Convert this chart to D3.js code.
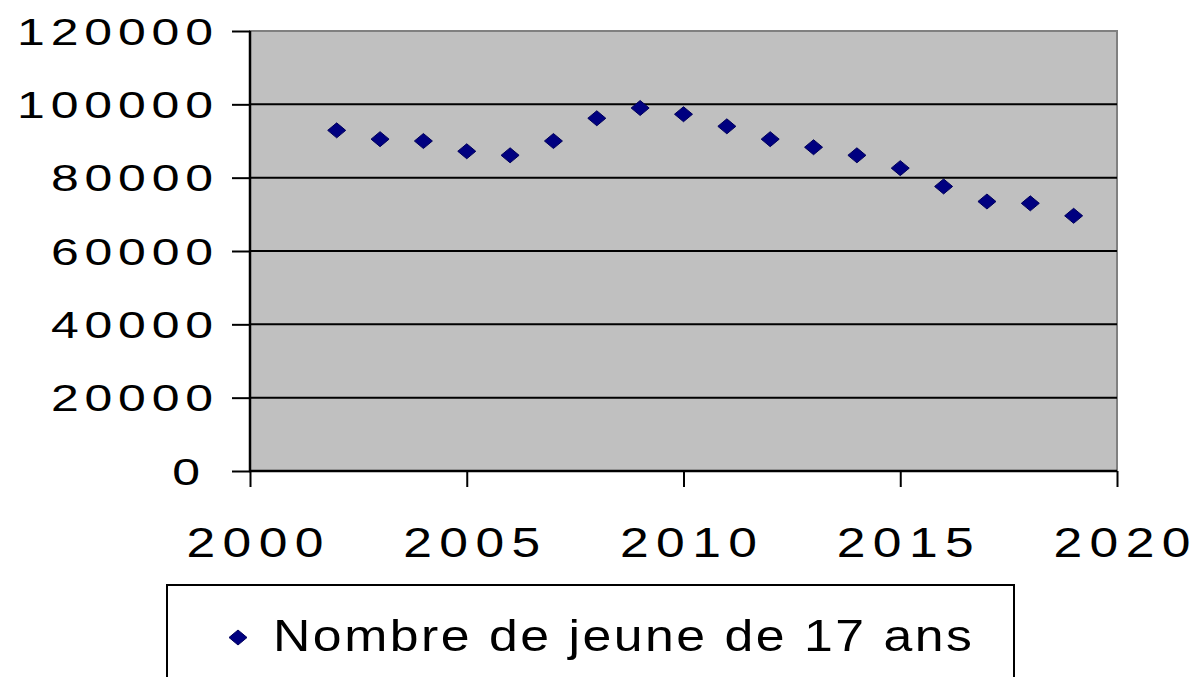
<!DOCTYPE html>
<html>
<head>
<meta charset="utf-8">
<script src="https://cdn.jsdelivr.net/npm/d3@7"></script>
<style>
  html, body { margin: 0; padding: 0; background: #fff; }
  svg { display: block; font-family: "Liberation Sans", Arial, sans-serif; }
</style>
</head>
<body>
<svg id="chart" width="1198" height="677"></svg>
<script>
// data
const years = [2002, 2003, 2004, 2005, 2006, 2007, 2008, 2009, 2010,
  2011, 2012, 2013, 2014, 2015, 2016, 2017, 2018, 2019];
const jeunes17 = [92900, 90500, 90000, 87200, 86100, 90000, 96200, 99000, 97300,
  94000, 90500, 88300, 86100, 82600, 77600, 73500, 73000, 69600];
const xTicks = [2000, 2005, 2010, 2015, 2020];
const yTicks = [0, 20000, 40000, 60000, 80000, 100000, 120000];
const seriesName = 'Nombre de jeune de 17 ans';

const svg = d3.select('#chart');
const plot = { left: 250, right: 1117, top: 31, bottom: 471 };

const x = d3.scaleLinear().domain([2000, 2020]).range([plot.left, plot.right]);
const y = d3.scaleLinear().domain([0, 120000]).range([plot.bottom, plot.top]);

// plot area
svg.append('rect')
  .attr('x', plot.left).attr('y', plot.top)
  .attr('width', plot.right - plot.left).attr('height', plot.bottom - plot.top)
  .attr('fill', '#c0c0c0')
  .attr('stroke', '#808080').attr('stroke-width', 2);

// gridlines
svg.append('g')
  .selectAll('line')
  .data(yTicks.filter(t => t > 0 && t < 120000))
  .join('line')
  .attr('x1', plot.left).attr('x2', plot.right)
  .attr('y1', d => y(d)).attr('y2', d => y(d))
  .attr('stroke', '#000').attr('stroke-width', 2);

// y axis, labels are wide-stretched in the original
const sy = 1.35;
const yAxis = svg.append('g')
  .attr('transform', `translate(${plot.left},0)`)
  .call(d3.axisLeft(y).tickValues(yTicks).tickSize(18).tickPadding(0).tickFormat(d3.format('d')));
yAxis.select('.domain').attr('stroke', '#000').attr('stroke-width', 2.5).attr('d', `M0,${plot.top}V${plot.bottom + 1}`);
yAxis.selectAll('.tick line').attr('stroke', '#000').attr('stroke-width', 2);
yAxis.selectAll('.tick text')
  .attr('transform', `scale(${sy},1)`)
  .attr('x', d => (String(d).length > 1 ? -37 : -50) / sy)
  .attr('dy', null).attr('y', 13)
  .attr('font-size', 37).attr('fill', '#000').attr('text-anchor', 'end')
  .attr('textLength', d => (String(d).length * 34 - 8) / sy)
  .attr('lengthAdjust', 'spacing');

// x axis
const sx = 1.2;
const xAxis = svg.append('g')
  .attr('transform', `translate(0,${plot.bottom})`)
  .call(d3.axisBottom(x).tickValues(xTicks).tickSize(16).tickPadding(0).tickFormat(d3.format('d')));
xAxis.select('.domain').attr('stroke', '#000').attr('stroke-width', 2.5).attr('d', `M${plot.left - 1},0H${plot.right}`);
xAxis.selectAll('.tick line').attr('stroke', '#000').attr('stroke-width', 2);
xAxis.selectAll('.tick text')
  .attr('transform', `scale(${sx},1)`)
  .attr('x', 4.5 / sx).attr('dy', null).attr('y', 86)
  .attr('font-size', 43).attr('fill', '#000').attr('text-anchor', 'middle')
  .attr('textLength', 137 / sx)
  .attr('lengthAdjust', 'spacing');

// markers
const diamond = 'M0,-7.5L9,0L0,7.5L-9,0Z';
svg.append('g')
  .selectAll('path')
  .data(years.map((yr, i) => ({ yr, v: jeunes17[i] })))
  .join('path')
  .attr('d', diamond)
  .attr('transform', d => `translate(${x(d.yr)},${y(d.v)})`)
  .attr('fill', '#000080')
  .attr('stroke', '#00005a').attr('stroke-width', 1);

// legend
const sl = 1.15;
const legend = svg.append('g');
legend.append('rect')
  .attr('x', 167).attr('y', 585).attr('width', 847).attr('height', 120)
  .attr('fill', '#fff').attr('stroke', '#000').attr('stroke-width', 2);
legend.append('path')
  .attr('d', diamond)
  .attr('transform', 'translate(238,637.5)')
  .attr('fill', '#000080').attr('stroke', '#00005a').attr('stroke-width', 1);
legend.append('text')
  .attr('transform', `scale(${sl},1)`)
  .attr('x', 273 / sl).attr('y', 651)
  .attr('font-size', 45).attr('fill', '#000')
  .attr('textLength', 699 / sl).attr('lengthAdjust', 'spacing')
  .text(seriesName);
</script>
</body>
</html>
